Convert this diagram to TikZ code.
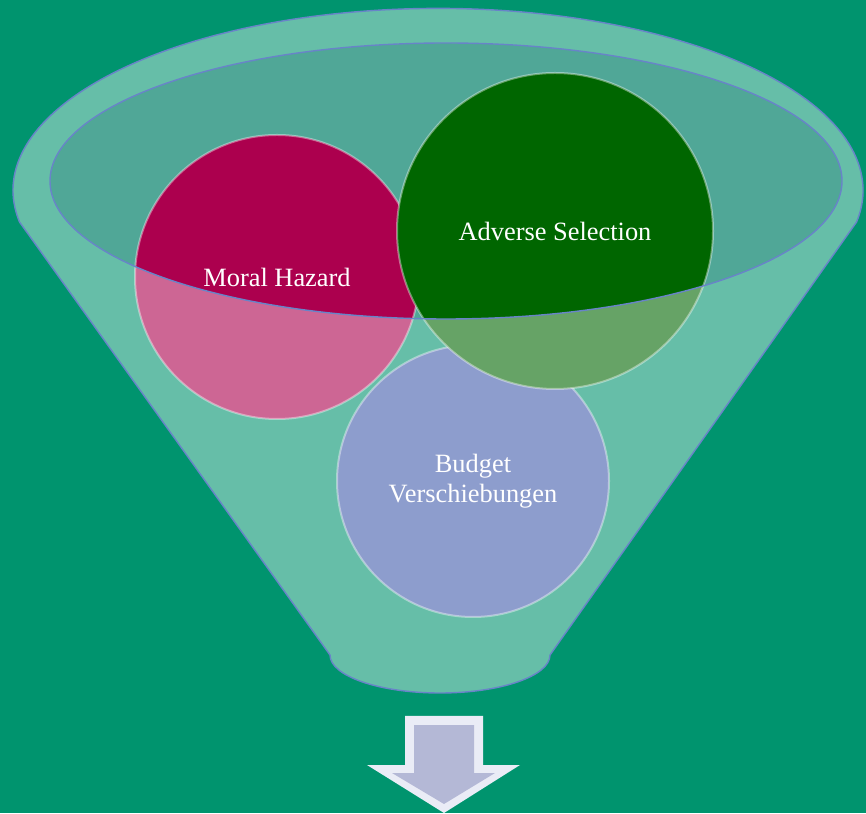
\documentclass[tikz,border=0pt]{standalone}
\usepackage{fontspec}
\setmainfont{Liberation Serif}

\definecolor{backteal}{RGB}{0,148,110}
\definecolor{innerteal}{RGB}{80,167,151}
\definecolor{rimblue}{RGB}{104,132,200}
\definecolor{hazardred}{RGB}{172,0,78}
\definecolor{selectgreen}{RGB}{0,102,0}
\definecolor{budgetblue}{RGB}{66,92,172}
\definecolor{arrowedge}{RGB}{234,236,246}
\definecolor{arrowface}{RGB}{180,184,214}

\begin{document}
\begin{tikzpicture}
          [x=0.5pt,y=0.5pt,
           bubble/.style={circle,draw=white,draw opacity=0.4,line width=1pt,inner sep=0pt,
                          text=white,align=center,font=\fontsize{13.2}{14.8}\selectfont},
           rim/.style={draw=rimblue,line width=0.7pt}]

          \fill[backteal] (0,0) rectangle (866,813);
          \useasboundingbox (0,0) rectangle (866,813);

          % inside of the funnel
          \fill[innerteal] (446,632) ellipse [x radius=396,y radius=138];

          \node[bubble,fill=budgetblue,minimum size=136pt] (bv) at (473,332) {Budget\\Verschiebungen};
          \node[bubble,fill=hazardred,minimum size=142pt] (mh) at (277,536) {Moral Hazard};
          \node[bubble,fill=selectgreen,minimum size=158pt] (as) at (555,582) {Adverse Selection};

          % front wall of the funnel
          \fill[white,opacity=0.4,even odd rule]
            (19.5,591) arc[start angle=190,end angle=-10,x radius=425,y radius=182]
            -- (550,158) arc[start angle=0,end angle=-180,x radius=110,y radius=38] -- cycle
            (446,632) ellipse [x radius=396,y radius=138];
          \draw[rim] (19.5,591) arc[start angle=190,end angle=-10,x radius=425,y radius=182]
            -- (550,158) arc[start angle=0,end angle=-180,x radius=110,y radius=38] -- cycle;
          \draw[rim] (446,632) ellipse [x radius=396,y radius=138];

          % arrow below
          \fill[arrowedge] (405,97) -- (483,97) -- (483,48) -- (520,48) -- (444,0) -- (367,48) -- (405,48) -- cycle;
          \fill[arrowface] (414,88) -- (474,88) -- (474,40) -- (495,40) -- (444,9) -- (392,40) -- (414,40) -- cycle;
        \end{tikzpicture}
\end{document}
